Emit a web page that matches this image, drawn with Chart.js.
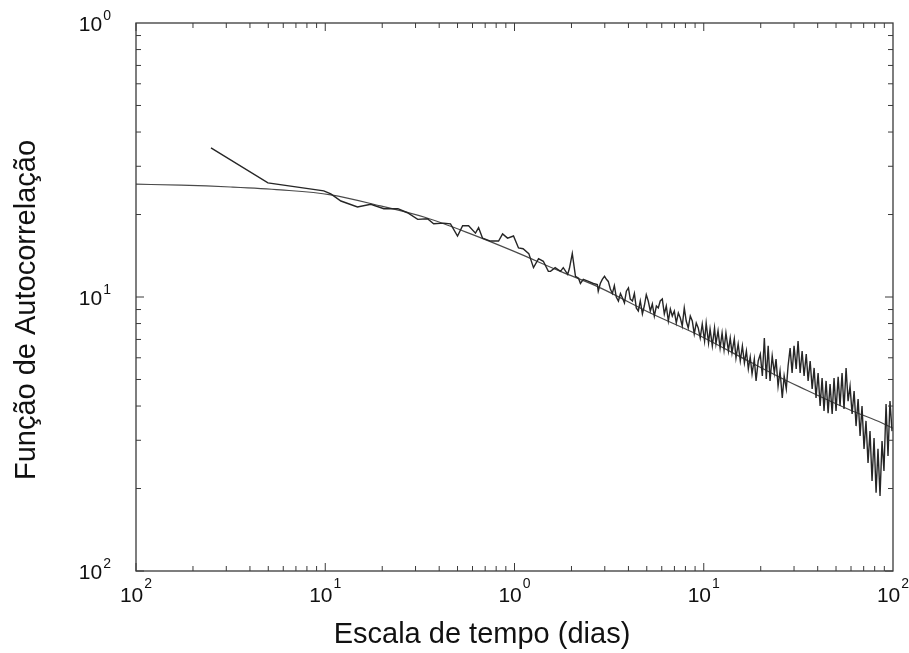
<!DOCTYPE html>
<html>
<head>
<meta charset="utf-8">
<script src="https://cdn.jsdelivr.net/npm/chart.js@4"></script>
<style>
  html, body { margin: 0; padding: 0; background: #fff; }
  canvas { display: block; }
</style>
</head>
<body>
<canvas id="acf" width="909" height="653"></canvas>
<script>
// dados (escala de tempo em dias, autocorrelação)
const serieX = [0.0249, 0.0498, 0.0982, 0.107, 0.121, 0.148, 0.174, 0.204, 0.242, 0.272,
  0.308, 0.347, 0.374, 0.422, 0.459, 0.500, 0.532, 0.572, 0.622, 0.646,
  0.678, 0.746, 0.824, 0.865, 0.919, 0.988, 1.05, 1.11, 1.19, 1.26,
  1.34, 1.42, 1.51, 1.55, 1.64, 1.75, 1.81, 1.91, 1.95, 2.02,
  2.10, 2.18, 2.23, 2.31, 2.46, 2.61, 2.74, 2.77,
  2.84, 2.91, 2.99, 3.06, 3.13, 3.21, 3.29, 3.37, 3.45, 3.54,
  3.63, 3.72, 3.81, 3.90, 4.00, 4.09, 4.20, 4.30, 4.40, 4.51,
  4.62, 4.74, 4.85, 4.97, 5.09, 5.22, 5.35, 5.48, 5.62, 5.75,
  5.89, 6.04, 6.19, 6.34, 6.50, 6.66, 6.82, 6.99, 7.16, 7.34,
  7.52, 7.70, 7.89, 8.08, 8.28, 8.49, 8.70, 8.91, 9.13, 9.35,
  9.58, 9.82, 10.1, 10.3, 10.6, 10.8, 11.1, 11.4, 11.6, 11.9,
  12.2, 12.5, 12.8, 13.1, 13.5, 13.8, 14.1, 14.5, 14.8, 15.2,
  15.6, 16.0, 16.4, 16.8, 17.2, 17.6, 18.0, 18.5, 18.9, 19.4,
  19.9, 20.4, 20.9, 21.4, 21.9, 22.4, 23.0, 23.6, 24.1, 24.7,
  25.3, 26.0, 26.6, 27.3, 27.9, 28.6, 29.3, 30.0, 30.8, 31.5,
  32.3, 33.1, 33.9, 34.8, 35.6, 36.5, 37.4, 38.3, 39.2, 40.2,
  41.2, 42.2, 43.2, 44.3, 45.4, 46.5, 47.7, 48.8, 50.0, 51.3,
  52.5, 53.8, 55.1, 56.5, 57.9, 59.3, 60.8, 62.3, 63.8, 65.4,
  67.0, 68.6, 70.3, 72.0, 73.8, 75.6, 77.5, 79.4, 81.4, 83.3,
  85.4, 87.5, 89.6, 91.9, 94.1, 96.4, 98.8];
const serieY = [0.350, 0.261, 0.244, 0.238, 0.224, 0.213, 0.218, 0.210, 0.210, 0.203,
  0.192, 0.193, 0.185, 0.186, 0.185, 0.167, 0.182, 0.182, 0.171, 0.179,
  0.164, 0.160, 0.160, 0.170, 0.164, 0.167, 0.151, 0.150, 0.144, 0.128,
  0.138, 0.135, 0.124, 0.124, 0.128, 0.124, 0.128, 0.121, 0.127, 0.144,
  0.119, 0.117, 0.112, 0.116, 0.114, 0.112, 0.111, 0.105,
  0.112, 0.116, 0.119, 0.116, 0.114, 0.107, 0.103, 0.110, 0.100, 0.0967,
  0.103, 0.0992, 0.0951, 0.105, 0.108, 0.0983, 0.0967, 0.103, 0.0912, 0.0889,
  0.0967, 0.0867, 0.0927, 0.102, 0.0967, 0.0889, 0.0943, 0.0852, 0.0927, 0.0912,
  0.0967, 0.0983, 0.0867, 0.0927, 0.0817, 0.0904, 0.0852, 0.0889, 0.0804, 0.0874,
  0.0838, 0.0784, 0.0912, 0.0817, 0.0771, 0.0852, 0.0817, 0.0733, 0.0804, 0.0771,
  0.0709, 0.0797, 0.0691, 0.0804, 0.0679, 0.0764, 0.0663, 0.0771, 0.0674, 0.0752,
  0.0651, 0.0739, 0.0641, 0.0739, 0.0635, 0.0709, 0.0625, 0.0703, 0.0599, 0.0674,
  0.0584, 0.0663, 0.0574, 0.0635, 0.0546, 0.0604, 0.0524, 0.0594, 0.0494, 0.0584,
  0.0619, 0.0515, 0.0709, 0.0502, 0.0663, 0.0494, 0.0609, 0.0528, 0.0594, 0.0473,
  0.0537, 0.0428, 0.0515, 0.0462, 0.0560, 0.0651, 0.0528, 0.0663, 0.0546, 0.0691,
  0.0528, 0.0635, 0.0515, 0.0619, 0.0494, 0.0584, 0.0462, 0.0551, 0.0428, 0.0528,
  0.0400, 0.0506, 0.0384, 0.0494, 0.0377, 0.0481, 0.0374, 0.0506, 0.0384, 0.0511,
  0.0400, 0.0528, 0.0390, 0.0551, 0.0417, 0.0473, 0.0374, 0.0454, 0.0338, 0.0424,
  0.0311, 0.0400, 0.0279, 0.0353, 0.0248, 0.0324, 0.0213, 0.0306, 0.0193, 0.0279,
  0.0188, 0.0298, 0.0232, 0.0407, 0.0263, 0.0417, 0.0324];

// curva ajustada
const ajusteX = [0.01, 0.0173, 0.0316, 0.0582, 0.107, 0.196, 0.339, 0.587, 0.988, 1.75,
  2.84, 5.22, 9.59, 17.6, 27.6, 32.3, 59.3, 87.5, 100];
const ajusteY = [0.258, 0.256, 0.252, 0.246, 0.236, 0.215, 0.195, 0.170, 0.147, 0.124,
  0.108, 0.0874, 0.0721, 0.0579, 0.0494, 0.0469, 0.0387, 0.0347, 0.0332];

// rótulos dos eixos (como aparecem na figura)
const xTicks = [0.01, 0.1, 1, 10, 100];
const xTickExp = ['2', '1', '0', '1', '2'];
const yTicks = [1, 0.1, 0.01];
const yTickExp = ['0', '1', '2'];

const FONT = '"Liberation Sans", Arial, sans-serif';

const moldura = {
  id: 'moldura',
  afterDraw(chart) {
    const { ctx, chartArea: a, scales: { x, y } } = chart;
    ctx.save();
    ctx.strokeStyle = '#3a3a3a';
    ctx.lineWidth = 1.3;
    ctx.strokeRect(a.left, a.top, a.right - a.left, a.bottom - a.top);

    // marcas menores e maiores, para dentro, nos quatro lados
    ctx.lineWidth = 1;
    for (let e = -2; e < 2; e++) {
      for (let m = 1; m <= 9; m++) {
        const px = x.getPixelForValue(m * Math.pow(10, e));
        const len = m === 1 ? 8 : 5;
        ctx.beginPath();
        ctx.moveTo(px, a.bottom); ctx.lineTo(px, a.bottom - len);
        ctx.moveTo(px, a.top); ctx.lineTo(px, a.top + len);
        ctx.stroke();
      }
    }
    for (let e = -2; e < 0; e++) {
      for (let m = 1; m <= 9; m++) {
        const py = y.getPixelForValue(m * Math.pow(10, e));
        const len = m === 1 ? 8 : 5;
        ctx.beginPath();
        ctx.moveTo(a.left, py); ctx.lineTo(a.left + len, py);
        ctx.moveTo(a.right, py); ctx.lineTo(a.right - len, py);
        ctx.stroke();
      }
    }

    // rótulos 10^n
    ctx.fillStyle = '#111';
    ctx.textBaseline = 'alphabetic';
    ctx.textAlign = 'left';
    const big = '21px ' + FONT, small = '14px ' + FONT;
    xTicks.forEach((v, i) => {
      ctx.font = big; const w1 = ctx.measureText('10').width;
      ctx.font = small; const w2 = ctx.measureText(xTickExp[i]).width;
      const px = x.getPixelForValue(v);
      const start = px - (w1 + w2 + 1) / 2;
      ctx.font = big; ctx.fillText('10', start, 602);
      ctx.font = small; ctx.fillText(xTickExp[i], start + w1 + 1, 588);
    });
    yTicks.forEach((v, i) => {
      ctx.font = big; const w1 = ctx.measureText('10').width;
      ctx.font = small; const w2 = ctx.measureText(yTickExp[i]).width;
      const py = y.getPixelForValue(v);
      const start = 111 - (w1 + w2 + 1);
      ctx.font = big; ctx.fillText('10', start, py + 8);
      ctx.font = small; ctx.fillText(yTickExp[i], start + w1 + 1, py - 3);
    });

    // títulos dos eixos
    ctx.font = '29px ' + FONT;
    ctx.textAlign = 'center';
    ctx.fillText('Escala de tempo (dias)', 482, 643);
    ctx.translate(35, 310);
    ctx.rotate(-Math.PI / 2);
    ctx.fillText('Função de Autocorrelação', 0, 0);
    ctx.restore();
  }
};

const ctx = document.getElementById('acf').getContext('2d');
new Chart(ctx, {
  type: 'line',
  data: {
    datasets: [
      {
        label: 'Autocorrelação',
        data: serieX.map((v, i) => ({ x: v, y: serieY[i] })),
        borderColor: '#262626',
        borderWidth: 1.4,
        pointRadius: 0,
        tension: 0
      },
      {
        label: 'Ajuste',
        data: ajusteX.map((v, i) => ({ x: v, y: ajusteY[i] })),
        borderColor: '#4a4a4a',
        borderWidth: 1.2,
        pointRadius: 0,
        cubicInterpolationMode: 'monotone'
      }
    ]
  },
  options: {
    responsive: false,
    animation: false,
    layout: { padding: { top: 23, right: 16, left: 0, bottom: 0 } },
    plugins: { legend: { display: false }, tooltip: { enabled: false } },
    scales: {
      x: {
        type: 'logarithmic',
        min: 0.01, max: 100,
        grid: { display: false },
        border: { display: false },
        ticks: { display: false },
        afterFit: (s) => { s.height = 82; }
      },
      y: {
        type: 'logarithmic',
        min: 0.01, max: 1,
        grid: { display: false },
        border: { display: false },
        ticks: { display: false },
        afterFit: (s) => { s.width = 136; }
      }
    }
  },
  plugins: [moldura]
});
</script>
</body>
</html>
